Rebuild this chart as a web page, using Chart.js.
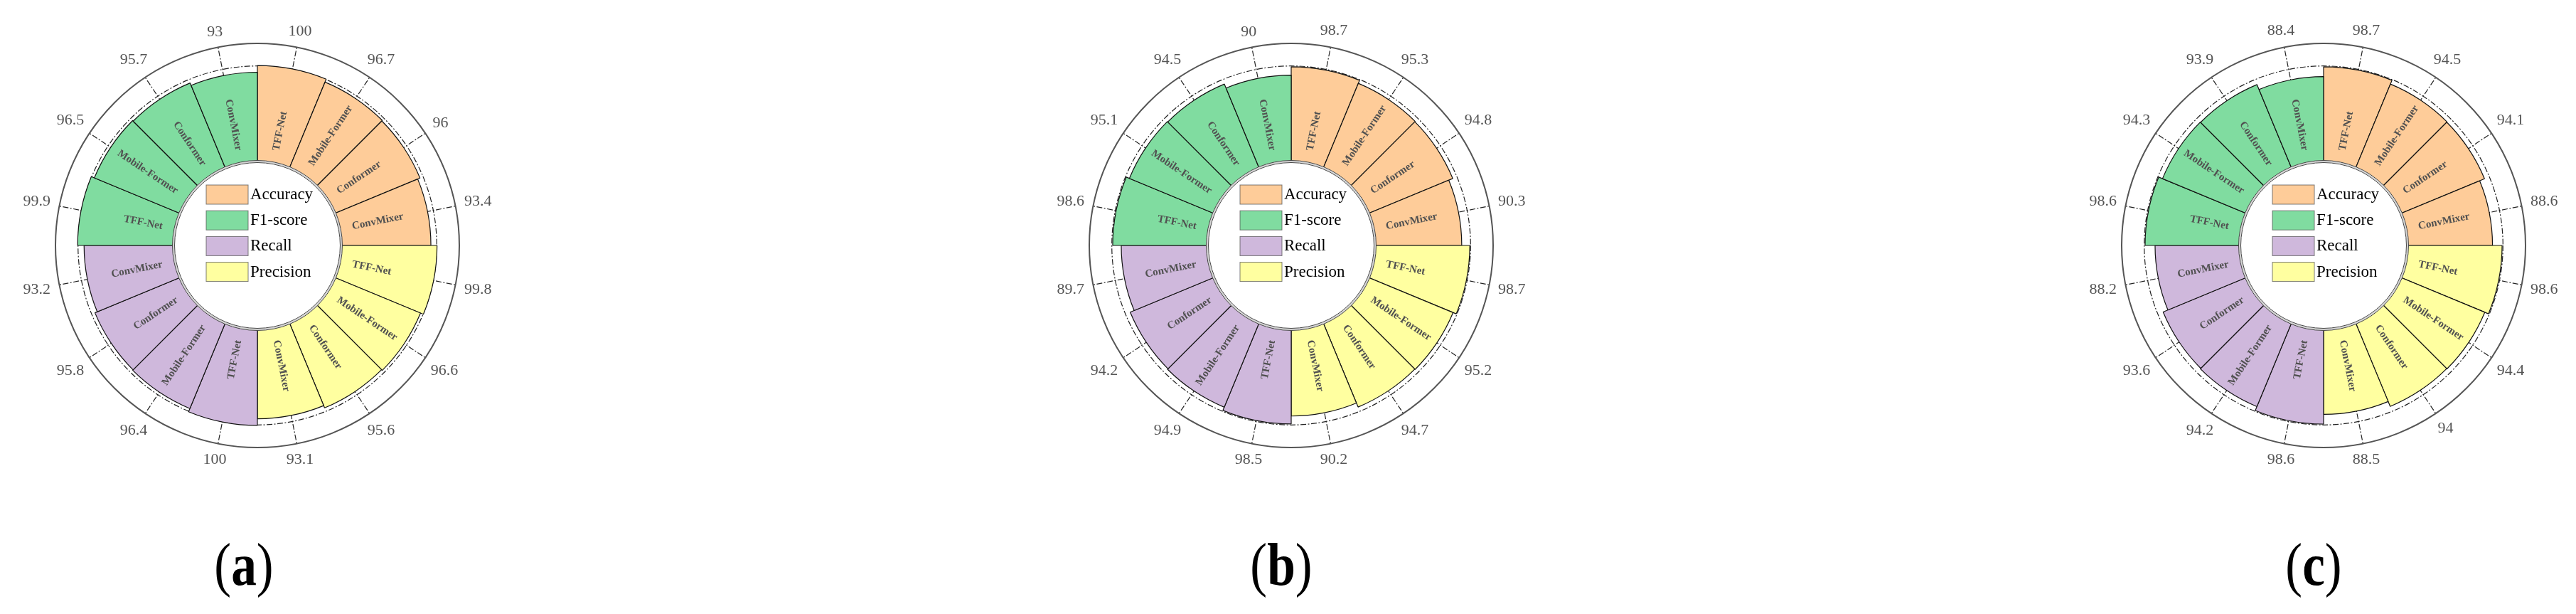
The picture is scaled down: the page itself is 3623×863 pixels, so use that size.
<!DOCTYPE html>
<html>
<head>
<meta charset="utf-8">
<script src="https://cdn.jsdelivr.net/npm/chart.js@4.4.0/dist/chart.umd.min.js"></script>
<style>
    body { margin: 0; background: #fff; width: 3623px; height: 863px; overflow: hidden; position: relative; }
    canvas { position: absolute; top: 0; }
    .cap { position: absolute; top: 752px; width: 200px; text-align: center; color: #000;
           font-family: 'Liberation Serif', 'Times New Roman', serif; font-size: 84px; line-height: 84px;
           transform: scaleX(0.85); }
</style>
</head>
<body>
<canvas id="chartA" width="720" height="690" style="left:2px"></canvas>
<canvas id="chartB" width="720" height="690" style="left:1456px"></canvas>
<canvas id="chartC" width="720" height="690" style="left:2908px"></canvas>
<div class="cap" style="left:243px">(<b>a</b>)</div>
<div class="cap" style="left:1702px">(<b>b</b>)</div>
<div class="cap" style="left:3154px">(<b>c</b>)</div>

<script>
// modelos, en el orden de las barras (sentido horario dentro de cada metrica)
const models = ['TFF-Net', 'Mobile-Former', 'Conformer', 'ConvMixer'];
// metricas en sentido horario desde arriba
const metrics = ['Accuracy', 'Precision', 'Recall', 'F1-score'];
const legendOrder = ['Accuracy', 'F1-score', 'Recall', 'Precision'];

// (a)
const accuracyA  = [100, 96.7, 96, 93.4];
const precisionA = [99.8, 96.6, 95.6, 93.1];
const recallA    = [100, 96.4, 95.8, 93.2];
const f1A        = [99.9, 96.5, 95.7, 93];
// (b)
const accuracyB  = [98.7, 95.3, 94.8, 90.3];
const precisionB = [98.7, 95.2, 94.7, 90.2];
const recallB    = [98.5, 94.9, 94.2, 89.7];
const f1B        = [98.6, 95.1, 94.5, 90];
// (c)
const accuracyC  = [98.7, 94.5, 94.1, 88.6];
const precisionC = [98.6, 94.4, 94, 88.5];
const recallC    = [98.6, 94.2, 93.6, 88.2];
const f1C        = [98.6, 94.3, 93.9, 88.4];

const colores = {
    'Accuracy': '#FECC99',
    'F1-score': '#80DCA0',
    'Recall': '#CFB8DC',
    'Precision': '#FFFFA0'
};

const serif = "'Liberation Serif', 'Times New Roman', serif";

//Plugin: anillos, marcas, hueco central, leyenda y textos
const ringPlugin = {
    id: 'ring',
    beforeDatasetsDraw(chart) {
        const ctx = chart.ctx;
        const scale = chart.scales.r;
        const cx = scale.xCenter, cy = scale.yCenter;
        const rOut = scale.getDistanceFromCenterForValue(scale.max);
        const rDash = scale.getDistanceFromCenterForValue(99.5);
        const rTick = scale.getDistanceFromCenterForValue(80);
        const arcs = chart.getDatasetMeta(0).data;

        ctx.save();
        ctx.strokeStyle = '#222';
        ctx.lineWidth = 1.2;
        ctx.setLineDash([8, 2.5, 2, 2.5]);
        ctx.beginPath();
        ctx.arc(cx, cy, rDash, 0, 2 * Math.PI);
        ctx.stroke();

        arcs.forEach(arc => {
            const a = (arc.startAngle + arc.endAngle) / 2;
            ctx.beginPath();
            ctx.moveTo(cx + rTick * Math.cos(a), cy + rTick * Math.sin(a));
            ctx.lineTo(cx + rOut * Math.cos(a), cy + rOut * Math.sin(a));
            ctx.stroke();
        });

        ctx.setLineDash([]);
        ctx.strokeStyle = '#555';
        ctx.lineWidth = 2;
        ctx.beginPath();
        ctx.arc(cx, cy, rOut, 0, 2 * Math.PI);
        ctx.stroke();
        ctx.restore();
    },
    afterDatasetsDraw(chart) {
        const ctx = chart.ctx;
        const scale = chart.scales.r;
        const cx = scale.xCenter, cy = scale.yCenter;
        const r0 = scale.getDistanceFromCenterForValue(0);
        const rOut = scale.getDistanceFromCenterForValue(scale.max);
        const arcs = chart.getDatasetMeta(0).data;
        const values = chart.data.datasets[0].data;
        const labels = chart.data.labels;

        ctx.save();
        // hueco central con doble borde
        ctx.fillStyle = '#fff';
        ctx.beginPath();
        ctx.arc(cx, cy, r0 + 1.5, 0, 2 * Math.PI);
        ctx.fill();
        ctx.strokeStyle = '#d4d4d4';
        ctx.lineWidth = 2;
        ctx.beginPath();
        ctx.arc(cx, cy, r0, 0, 2 * Math.PI);
        ctx.stroke();
        ctx.strokeStyle = '#444';
        ctx.lineWidth = 1;
        [r0 + 1.5, r0 - 1.5].forEach(r => {
            ctx.beginPath();
            ctx.arc(cx, cy, r, 0, 2 * Math.PI);
            ctx.stroke();
        });

        // leyenda
        ctx.font = '23px ' + serif;
        ctx.textBaseline = 'middle';
        ctx.textAlign = 'left';
        legendOrder.forEach((m, k) => {
            const top = cy - 85 + k * 36.2;
            ctx.fillStyle = colores[m];
            ctx.fillRect(cx - 72, top, 59, 27);
            ctx.strokeStyle = 'rgba(80,80,80,0.75)';
            ctx.lineWidth = 1;
            ctx.strokeRect(cx - 72, top, 59, 27);
            ctx.fillStyle = '#000';
            ctx.fillText(m, cx - 10, top + 14);
        });

        // nombres de los modelos dentro de las barras
        const rText = r0 + 18;
        ctx.font = 'bold 15px ' + serif;
        ctx.fillStyle = '#505050';
        arcs.forEach((arc, i) => {
            const a = (arc.startAngle + arc.endAngle) / 2;
            ctx.save();
            ctx.translate(cx, cy);
            if (Math.cos(a) > 0) {
                ctx.rotate(a);
                ctx.textAlign = 'left';
                ctx.fillText(labels[i], rText, 0);
            } else {
                ctx.rotate(a + Math.PI);
                ctx.textAlign = 'right';
                ctx.fillText(labels[i], -rText, 0);
            }
            ctx.restore();
        });

        // valores fuera del anillo
        ctx.font = '22px ' + serif;
        ctx.fillStyle = '#555';
        ctx.textAlign = 'center';
        arcs.forEach((arc, i) => {
            const a = (arc.startAngle + arc.endAngle) / 2;
            const txt = String(values[i]);
            const w = ctx.measureText(txt).width;
            const d = rOut + 12 + Math.abs(Math.cos(a)) * w / 2 + Math.abs(Math.sin(a)) * 8;
            ctx.fillText(txt, cx + d * Math.cos(a), cy + d * Math.sin(a));
        });
        ctx.restore();
    }
};

function makeChart(id, acc, prec, rec, f1) {
    const series = [acc, prec, rec, f1];
    const data = [];
    const labels = [];
    const bg = [];
    series.forEach((vals, k) => {
        vals.forEach((v, j) => {
            data.push(v);
            labels.push(models[j]);
            bg.push(colores[metrics[k]]);
        });
    });

    return new Chart(document.getElementById(id), {
        type: 'polarArea',
        data: {
            labels: labels,
            datasets: [{
                data: data,
                backgroundColor: bg,
                borderColor: '#111',
                borderWidth: 1.2
            }]
        },
        options: {
            responsive: false,
            animation: false,
            layout: { padding: { left: 76, right: 76, top: 61, bottom: 61 } },
            plugins: { legend: { display: false }, tooltip: { enabled: false } },
            scales: {
                r: {
                    min: -87.4,
                    max: 123,
                    ticks: { display: false },
                    grid: { display: false },
                    angleLines: { display: false },
                    pointLabels: { display: false }
                }
            }
        },
        plugins: [ringPlugin]
    });
}

window.addEventListener('load', () => {
    makeChart('chartA', accuracyA, precisionA, recallA, f1A);
    makeChart('chartB', accuracyB, precisionB, recallB, f1B);
    makeChart('chartC', accuracyC, precisionC, recallC, f1C);
});
</script>
</body>
</html>
